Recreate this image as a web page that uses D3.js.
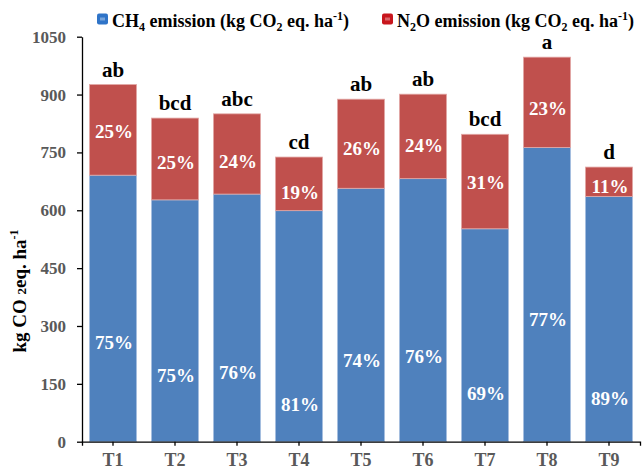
<!DOCTYPE html>
<html>
<head>
<meta charset="utf-8">
<script src="https://cdn.jsdelivr.net/npm/d3@7/dist/d3.min.js"></script>
<style>
  html, body { margin: 0; padding: 0; background: #fff; }
  svg { display: block; }
</style>
</head>
<body>
<svg id="chart" width="642" height="471"></svg>
<script>
// Treatments and their greenhouse gas emissions (kg CO2 eq. ha-1)
const treatments = ["T1", "T2", "T3", "T4", "T5", "T6", "T7", "T8", "T9"];
const ch4Emission = [691, 627, 642, 599, 657, 682, 552, 763, 636];
const n2oEmission = [235, 212, 208, 139, 231, 219, 245, 234, 76];
// Significance letters above each stacked bar
const sigLetters = ["ab", "bcd", "abc", "cd", "ab", "ab", "bcd", "a", "d"];
// Height (kg CO2 eq. ha-1) where each share label sits
const ch4LabelAt = [257, 170, 177, 95, 209, 219, 123, 316, 110];
const n2oLabelAt = [804, 723, 726, 645, 758, 767, 671, 863, 661];
const yTicks = [0, 150, 300, 450, 600, 750, 900, 1050];

const FONT = '"Liberation Serif", "Times New Roman", Times, serif';
const svg = d3.select("#chart")
  .attr("font-family", FONT)
  .attr("font-weight", "bold");
const margin = { left: 82, right: 2, top: 36.7, bottom: 29.3 };
const W = 642, H = 471;

const x = d3.scaleBand()
  .domain(treatments)
  .range([margin.left, W - margin.right])
  .paddingInner(0.24)
  .paddingOuter(0.12);

const y = d3.scaleLinear()
  .domain([0, 1050])
  .range([H - margin.bottom, margin.top]);

const rows = treatments.map((t, i) => {
  const total = ch4Emission[i] + n2oEmission[i];
  return {
    t, ch4: ch4Emission[i], n2o: n2oEmission[i], total,
    ch4Pct: Math.round(ch4Emission[i] / total * 100) + "%",
    n2oPct: Math.round(n2oEmission[i] / total * 100) + "%",
    sig: sigLetters[i], ch4At: ch4LabelAt[i], n2oAt: n2oLabelAt[i]
  };
});

const blue = "#4f81bd", red = "#c0504d";

// Stacked bars: CH4 at the bottom, N2O on top
const g = svg.append("g");
g.selectAll("rect.ch4").data(rows).join("rect")
  .attr("class", "ch4")
  .attr("x", d => x(d.t))
  .attr("width", x.bandwidth())
  .attr("y", d => y(d.ch4))
  .attr("height", d => y(0) - y(d.ch4))
  .attr("fill", blue)
  .attr("stroke", "#a7c0e0").attr("stroke-width", 0.8);

g.selectAll("rect.n2o").data(rows).join("rect")
  .attr("class", "n2o")
  .attr("x", d => x(d.t))
  .attr("width", x.bandwidth())
  .attr("y", d => y(d.total))
  .attr("height", d => y(d.ch4) - y(d.total))
  .attr("fill", red)
  .attr("stroke", "#e3a9a7").attr("stroke-width", 0.8);

// Share labels
g.selectAll("text.ch4p").data(rows).join("text")
  .attr("class", "ch4p")
  .attr("x", d => x(d.t) + x.bandwidth() / 2 + 1)
  .attr("y", d => y(d.ch4At) + 6)
  .attr("text-anchor", "middle")
  .attr("font-size", 19)
  .attr("fill", "#fff")
  .text(d => d.ch4Pct);

g.selectAll("text.n2op").data(rows).join("text")
  .attr("class", "n2op")
  .attr("x", d => x(d.t) + x.bandwidth() / 2 + 1)
  .attr("y", d => y(d.n2oAt) + 6)
  .attr("text-anchor", "middle")
  .attr("font-size", 19)
  .attr("fill", "#fff")
  .text(d => d.n2oPct);

// Significance letters
g.selectAll("text.sig").data(rows).join("text")
  .attr("class", "sig")
  .attr("x", d => x(d.t) + x.bandwidth() / 2)
  .attr("y", d => y(d.total) - 8)
  .attr("text-anchor", "middle")
  .attr("font-size", 21)
  .attr("fill", "#000")
  .text(d => d.sig);

// Axes
const yAxis = svg.append("g")
  .attr("transform", `translate(${margin.left},0)`)
  .call(d3.axisLeft(y).tickValues(yTicks).tickFormat(d3.format("d"))
    .tickSize(5).tickSizeOuter(0).tickPadding(11));
yAxis.attr("font-family", FONT).attr("font-size", 17);
yAxis.selectAll("text").attr("fill", "#595959");

const xAxis = svg.append("g")
  .attr("transform", `translate(0,${y(0)})`)
  .call(d3.axisBottom(x).tickSize(4).tickSizeOuter(4));
xAxis.attr("font-family", FONT).attr("font-size", 18);
xAxis.selectAll("text").attr("fill", "#595959").attr("dy", 0).attr("y", 24.5);

svg.selectAll(".domain, .tick line").attr("stroke", "#000").attr("stroke-width", 1.3);

// Y-axis title
const yTitle = svg.append("text")
  .attr("transform", "translate(26,291) rotate(-90)")
  .attr("text-anchor", "middle")
  .attr("font-size", 19)
  .attr("fill", "#000");
yTitle.append("tspan").text("kg CO ");
yTitle.append("tspan").attr("font-size", 13).text("2");
yTitle.append("tspan").text("eq. ha");
yTitle.append("tspan").attr("font-size", 12).attr("dy", -8).text("-1");

// Legend
const legend = [
  { x: 97, color: "#2f74c8", parts: [["CH", 0], ["4", 1], [" emission (kg CO", 0], ["2", 1], [" eq. ha", 0], ["-1", 2], [")", 0]] },
  { x: 382, color: "#c8161d", parts: [["N", 0], ["2", 1], ["O emission (kg CO", 0], ["2", 1], [" eq. ha", 0], ["-1", 2], [")", 0]] }
];
legend.forEach(L => {
  svg.append("rect").attr("x", L.x).attr("y", 13.5).attr("width", 11).attr("height", 11)
    .attr("rx", 2).attr("fill", L.color);
  svg.append("rect").attr("x", L.x + 3).attr("y", 17.5).attr("width", 5).attr("height", 3)
    .attr("fill", "#fff").attr("opacity", 0.35);
  const t = svg.append("text").attr("x", L.x + 15).attr("y", 26.5).attr("font-size", 18).attr("fill", "#000");
  let shift = 0;
  L.parts.forEach(([s, kind]) => {
    const target = kind === 1 ? 4 : kind === 2 ? -7 : 0;
    t.append("tspan")
      .attr("dy", target - shift)
      .attr("font-size", kind ? 12 : 18)
      .text(s);
    shift = target;
  });
});
</script>
</body>
</html>
